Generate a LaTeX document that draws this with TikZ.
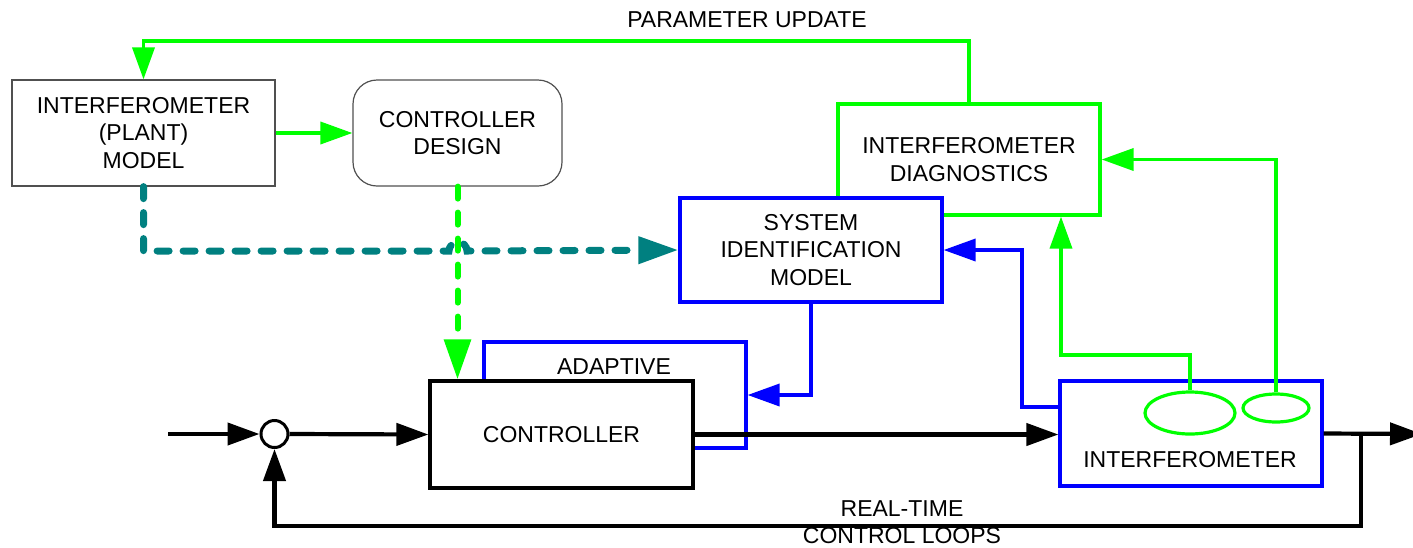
\documentclass[tikz,border=0pt]{standalone}
\usepackage{fontspec}
\setmainfont{Liberation Sans}
\usetikzlibrary{arrows.meta,shapes.geometric}
\definecolor{sigGreen}{RGB}{0,255,0}
\definecolor{sigBlue}{RGB}{0,0,255}
\definecolor{sigTeal}{RGB}{0,128,128}
\definecolor{sigGray}{RGB}{80,80,80}
\tikzset{>={Triangle[length=16pt,width=11pt]},
  modelbox/.style={draw=sigGray,line width=0.6pt,minimum height=53pt,align=center,inner sep=0pt},
  greenbox/.style={draw=sigGreen,line width=1.6pt,minimum width=131pt,minimum height=55.5pt,align=center,inner sep=0pt},
  bluebox/.style={draw=sigBlue,line width=1.6pt,fill=white,minimum width=131pt,align=center,inner sep=0pt},
  blackbox/.style={draw,line width=1.6pt,fill=white,minimum width=131.5pt,minimum height=53.5pt,inner sep=0pt},
  sensor/.style={ellipse,draw=sigGreen,line width=1.6pt,inner sep=0pt},
  gline/.style={draw=sigGreen,line width=1.8pt},
  bline/.style={draw=sigBlue,line width=1.8pt},
  mline/.style={draw,line width=2.1pt},
  tdash/.style={draw=sigTeal,line width=3.5pt,line cap=round,dash pattern=on 6pt off 7pt,-{Triangle[length=20pt,width=13pt]}},
  gdash/.style={draw=sigGreen,line width=3pt,line cap=round,dash pattern=on 6pt off 7pt,-{Triangle[length=20pt,width=13pt]}}}

\begin{document}
\begin{tikzpicture}[x=0.5pt,y=-0.5pt,every node/.style={font=\fontsize{11.5}{13.75}\selectfont}]
  \useasboundingbox (0,0) rectangle (1413,547);
  % upper blocks
  \node[modelbox,minimum width=131.5pt] (plant) at (143.5,133) {INTERFEROMETER\\(PLANT)\\MODEL};
  \node[modelbox,rounded corners=12pt,minimum width=104.5pt] (design) at (457.5,133) {CONTROLLER\\DESIGN};
  \node[greenbox] (diag) at (969,159.5) {INTERFEROMETER\\DIAGNOSTICS};
  \node[bluebox,minimum height=52pt] (sysid) at (811,250) {SYSTEM\\IDENTIFICATION\\MODEL};
  % loop blocks
  \node[bluebox,minimum height=53pt] (adapt) at (615,395) {};
  \node (adaptlbl) at (614,367) {ADAPTIVE};
  \node[blackbox] (ctrl) at (561.5,434.5) {CONTROLLER};
  \node[bluebox,minimum height=52.5pt] (ifo) at (1191,433.5) {};
  \node (ifolbl) at (1190,460) {INTERFEROMETER};
  \node[sensor,minimum width=45pt,minimum height=21pt] (e1) at (1190,413) {};
  \node[sensor,minimum width=33pt,minimum height=14pt] (e2) at (1276,408) {};
  \node[circle,draw,line width=1.5pt,minimum size=13.5pt,inner sep=0pt] (sum) at (274.5,434) {};

  \coordinate (pu) at (969,41);
  \coordinate (hop) at (458,251);
  \coordinate (bk) at (1022,407);
  \coordinate (gk) at (1061,355);
  \coordinate (in) at (168,434);
  \coordinate (out) at (1422,434);
  \coordinate (fb) at (1361,526);

  \draw[gline,->] (plant.east) -- (design.west);
  \draw[gline,->] (diag.north) -- (pu) -| (plant.north);
  \node (pulbl) at (747,20) {PARAMETER UPDATE};
  \draw[tdash] (plant.south) |- ([xshift=-4.5pt]hop) arc (180:360:9) -- (sysid.west);
  \draw[gdash] (design.south) -- (design.south |- ctrl.north);
  \draw[bline,->] (sysid.south) |- (adapt.east);
  \draw[bline,->] (ifo.west |- bk) -- (bk) |- (sysid.east);
  \draw[gline,->] (e1.north) |- (gk) -- (gk |- diag.south);
  \draw[gline,->] (e2.north) |- (diag.east);

  % real-time loop
  \draw[mline,->] (in) -- (sum.west);
  \draw[mline,->] (sum.east) -- (ctrl.west);
  \draw[mline,->] (ctrl.east) -- (ctrl.east -| ifo.west);
  \draw[mline,->] (ifo.east) -- (out);
  \draw[mline,->] (fb |- ifo.east) -- (fb) -| (sum.south);
  \node[align=center] (rtlbl) at (902,522) {REAL-TIME\\CONTROL LOOPS};
\end{tikzpicture}
\end{document}
